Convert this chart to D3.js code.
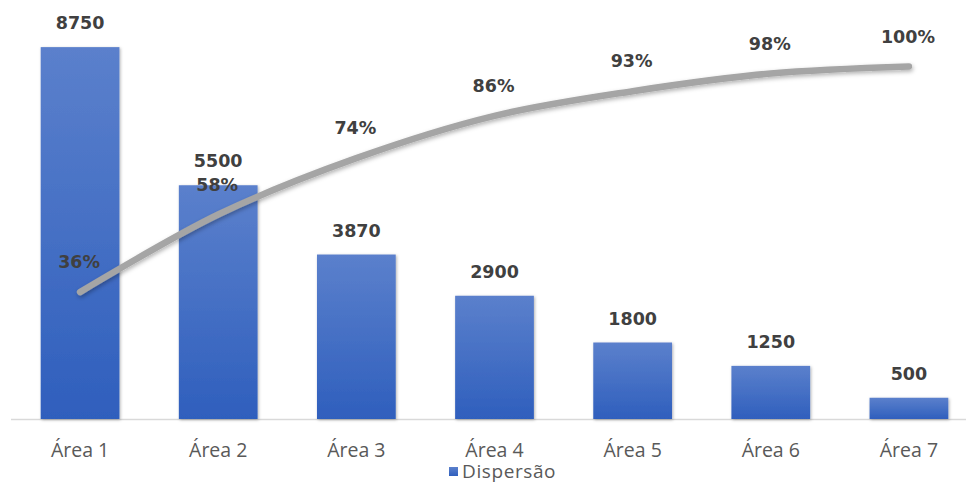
<!DOCTYPE html>
<html>
<head>
<meta charset="utf-8">
<script src="https://cdn.jsdelivr.net/npm/d3@7"></script>
<style>
  html, body { margin: 0; padding: 0; background: #fff; }
  svg { display: block; }
</style>
</head>
<body>
<svg id="chart" width="966" height="483"></svg>
<script>
// Pareto data: dispersion per area and its cumulative share
const categories = ["Área 1", "Área 2", "Área 3", "Área 4", "Área 5", "Área 6", "Área 7"];
const dispersao = [8750, 5500, 3870, 2900, 1800, 1250, 500];
const acumulado = [36, 58, 74, 86, 93, 98, 100];
const legendLabel = "Dispersão";

const svg = d3.select("#chart");
const labelFont = "'DejaVu Sans', Verdana, sans-serif";
const axisFont = "'Open Sans', 'Noto Sans', sans-serif";

const x = d3.scaleBand().domain(categories).range([11, 978]).paddingInner(0.43).paddingOuter(0.215);
const y = d3.scaleLinear().domain([0, 10000]).range([419, -6]);
const y2 = d3.scaleLinear().domain([0, 120]).range([419, -4]);

const defs = svg.append("defs");
const grad = defs.append("linearGradient").attr("id", "barGrad")
  .attr("x1", 0).attr("y1", 0).attr("x2", 0).attr("y2", 1);
grad.append("stop").attr("offset", "0%").attr("stop-color", "#5b80cc");
grad.append("stop").attr("offset", "100%").attr("stop-color", "#2f5fbd");

const barShadow = defs.append("filter").attr("id", "barShadow")
  .attr("x", "-10%").attr("y", "-10%").attr("width", "130%").attr("height", "130%");
barShadow.append("feDropShadow").attr("dx", 1).attr("dy", 1).attr("stdDeviation", 1.5)
  .attr("flood-color", "#000").attr("flood-opacity", 0.3);

const lineShadow = defs.append("filter").attr("id", "lineShadow")
  .attr("x", "-10%").attr("y", "-20%").attr("width", "130%").attr("height", "150%");
lineShadow.append("feDropShadow").attr("dx", 1).attr("dy", 2).attr("stdDeviation", 2)
  .attr("flood-color", "#000").attr("flood-opacity", 0.3);

// category axis line
svg.append("line")
  .attr("x1", 11).attr("x2", 966)
  .attr("y1", y(0) + 0.5).attr("y2", y(0) + 0.5)
  .attr("stroke", "#d9d9d9").attr("stroke-width", 1.5);

// bars
svg.append("g").selectAll("rect").data(dispersao).join("rect")
  .attr("x", (d, i) => x(categories[i]))
  .attr("y", d => y(d))
  .attr("width", x.bandwidth())
  .attr("height", d => y(0) - y(d))
  .attr("fill", "url(#barGrad)")
  .attr("filter", "url(#barShadow)");

// bar value labels
svg.append("g").selectAll("text").data(dispersao).join("text")
  .attr("x", (d, i) => x(categories[i]) + x.bandwidth() / 2)
  .attr("y", d => y(d) - 18)
  .attr("text-anchor", "middle")
  .attr("font-family", labelFont).attr("font-weight", "bold").attr("font-size", 17.5)
  .attr("fill", "#404040")
  .text(d => d);

// cumulative line
const line = d3.line()
  .x((d, i) => x(categories[i]) + x.bandwidth() / 2)
  .y(d => y2(d))
  .curve(d3.curveCatmullRom.alpha(0.5));

svg.append("path").datum(acumulado)
  .attr("d", line)
  .attr("fill", "none")
  .attr("stroke", "#a5a5a5").attr("stroke-width", 6.5)
  .attr("stroke-linecap", "round").attr("stroke-linejoin", "round")
  .attr("filter", "url(#lineShadow)");

// cumulative labels
svg.append("g").selectAll("text").data(acumulado).join("text")
  .attr("x", (d, i) => x(categories[i]) + x.bandwidth() / 2 - 1)
  .attr("y", d => y2(d) - 24)
  .attr("text-anchor", "middle")
  .attr("font-family", labelFont).attr("font-weight", "bold").attr("font-size", 17.5)
  .attr("fill", "#404040")
  .text(d => d + "%");

// category labels
svg.append("g").selectAll("text").data(categories).join("text")
  .attr("x", d => x(d) + x.bandwidth() / 2)
  .attr("y", 457)
  .attr("text-anchor", "middle")
  .attr("font-family", axisFont).attr("font-size", 19.5)
  .attr("fill", "#595959")
  .text(d => d);

// legend
const lg = svg.append("g");
lg.append("rect").attr("x", 449).attr("y", 467).attr("width", 9).attr("height", 9)
  .attr("fill", "url(#barGrad)");
lg.append("text").attr("x", 462).attr("y", 478)
  .attr("font-family", axisFont).attr("font-size", 19).attr("letter-spacing", 0.6)
  .attr("fill", "#595959")
  .text(legendLabel);
</script>
</body>
</html>
